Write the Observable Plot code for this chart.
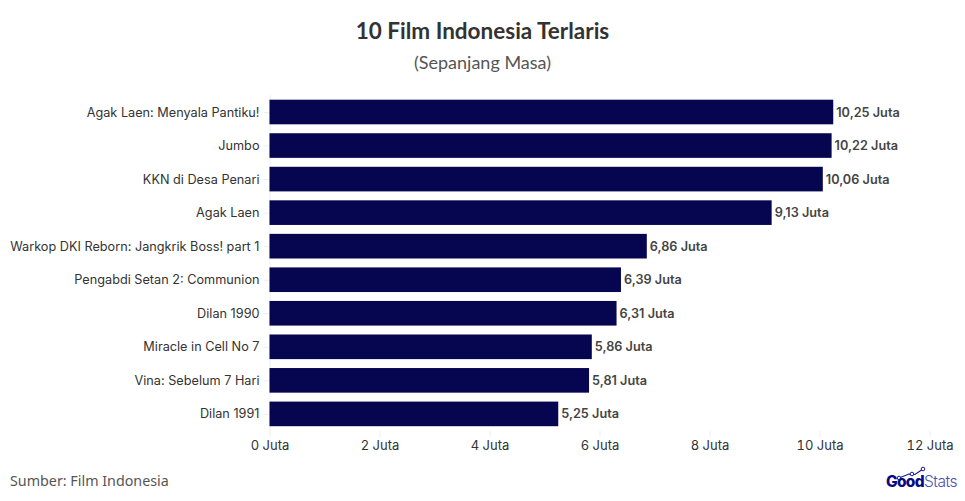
<!DOCTYPE html>
<html><head><meta charset="utf-8">
<script src="https://cdn.jsdelivr.net/npm/d3@7"></script>
<script src="https://cdn.jsdelivr.net/npm/@observablehq/plot@0.6"></script>
<style>
html,body{margin:0;padding:0;background:#fff;}
body{width:965px;height:501px;position:relative;overflow:hidden;font-family:Inter,sans-serif;}
#title{position:absolute;left:0;width:965px;top:17px;text-align:center;font:700 22.5px Lato,sans-serif;color:#333;}
#sub{position:absolute;left:0;width:965px;top:51px;text-align:center;font:400 18px Lato,sans-serif;color:#555;}
#chart{position:absolute;left:0;top:80px;}
#src{position:absolute;left:10px;top:471px;font:400 14.3px "Noto Sans",sans-serif;color:#555;}
#logo{position:absolute;left:885px;top:465px;}
</style></head><body>
<div id="title">10 Film Indonesia Terlaris</div>
<div id="sub">(Sepanjang Masa)</div>
<div id="chart"></div>
<div id="src">Sumber: Film Indonesia</div>
<svg id="logo" width="75" height="28">
  <polyline points="14,13 24,9 30,9.5 38,4" fill="none" stroke="#1a1a8c" stroke-width="1.2"/>
  <circle cx="14" cy="13" r="1.8" fill="#fff" stroke="#1a1a8c"/>
  <circle cx="27" cy="9" r="1.8" fill="#fff" stroke="#1a1a8c"/>
  <circle cx="38" cy="4" r="1.8" fill="#fff" stroke="#1a1a8c"/>
  <text x="1" y="22" font-family="Inter" font-size="15.5" font-weight="800" fill="#0a0a80" letter-spacing="-0.7">Good<tspan font-weight="300" fill="#4a50b0" letter-spacing="-0.5">Stats</tspan></text>
</svg>
<script>
const films = ["Agak Laen: Menyala Pantiku!","Jumbo","KKN di Desa Penari","Agak Laen","Warkop DKI Reborn: Jangkrik Boss! part 1","Pengabdi Setan 2: Communion","Dilan 1990","Miracle in Cell No 7","Vina: Sebelum 7 Hari","Dilan 1991"];
const values = [10.25,10.22,10.06,9.13,6.86,6.39,6.31,5.86,5.81,5.25];
const valueLabels = ["10,25 Juta","10,22 Juta","10,06 Juta","9,13 Juta","6,86 Juta","6,39 Juta","6,31 Juta","5,86 Juta","5,81 Juta","5,25 Juta"];
const xTicks = [0,2,4,6,8,10,12];
const rows = films.map((film,i)=>({film,value:values[i],label:valueLabels[i]}));
const plot = Plot.plot({
  width:965, height:375,
  marginLeft:269.5, marginRight:35.5, marginTop:15.2, marginBottom:24.3,
  style:{fontFamily:"Inter,sans-serif",background:"transparent"},
  x:{domain:[0,12]},
  y:{domain:films,paddingInner:0.266,paddingOuter:0.134,round:false},
  marks:[
    Plot.ruleX([0],{stroke:"#eeeeee"}),
    Plot.axisX({ticks:xTicks,tickFormat:d=>d+" Juta",tickSize:6,stroke:"#eeeeee",tickPadding:4,fontSize:13,fill:"#333",label:null}),
    Plot.axisY({tickSize:6,stroke:"#eeeeee",tickPadding:4.5,fontSize:12.7,fill:"#333",label:null}),
    Plot.barX(rows,{x:"value",y:"film",fill:"#050550"}),
    Plot.text(rows,{x:"value",y:"film",text:"label",textAnchor:"start",dx:2.5,fontSize:12.7,fontWeight:600,fill:"#444"})
  ]
});
document.getElementById("chart").appendChild(plot);
</script></body></html>
